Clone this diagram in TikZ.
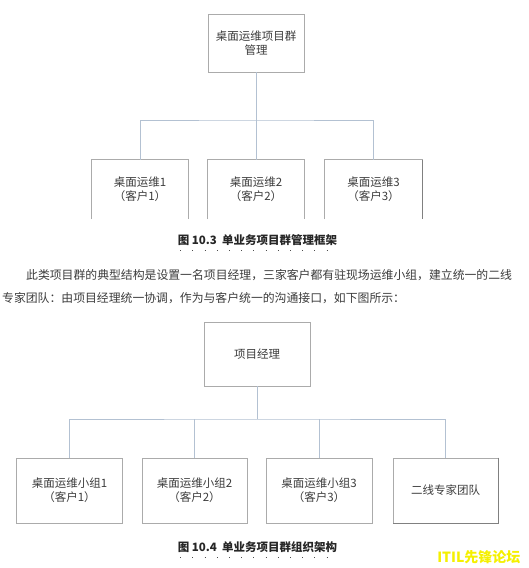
\documentclass[tikz,border=0pt]{standalone}
\usepackage{fontspec}
\setmainfont{Noto Sans CJK SC}
\usepackage{xcolor}
\usetikzlibrary{positioning}
\definecolor{boxgray}{HTML}{ABABAB}
\definecolor{linkblue}{HTML}{B3C1D2}
\definecolor{txtgray}{HTML}{3C3C3C}
\definecolor{shadegray}{HTML}{808080}
\definecolor{markyellow}{HTML}{F5F000}

\begin{document}
\begin{tikzpicture}[x=1pt,y=-1pt,font=\fontsize{11.5}{14}\selectfont]

\tikzset{
b/.style={
    draw=boxgray,
    line width=0.8pt,
    inner sep=0pt,
    text=txtgray,
    align=center
},
bo/.style={
    inner sep=0pt,
    text=txtgray,
    align=center,
    minimum width=96pt,
    minimum height=59pt
},
boxline/.style={draw=boxgray,line width=0.8pt},
shadowline/.style={draw=shadegray,line width=1.4pt},
a/.style={draw=linkblue,line width=0.8pt},
captext/.style={font=\fontsize{11.5}{14}\selectfont\bfseries,text=black!85},
para/.style={font=\fontsize{11.85}{14}\selectfont,text=txtgray,inner sep=0pt},
dotmarks/.style={draw=black!70,line width=1pt,dash pattern=on 1pt off 11.2pt}
}

\fill[white] (0,0) rectangle (529,568);
\useasboundingbox (0,0) rectangle (529,568);

% figure 10.3
\node[b,minimum width=96pt,minimum height=58pt] (group) at (256,43) {桌面运维项目群\\管理};
\node[bo] (desk1) at (140,189.5) {桌面运维1\\（客户1）};
\node[bo] (desk2) at (256,189.5) {桌面运维2\\（客户2）};
\node[bo,minimum width=97pt] (desk3) at (373.5,189.5) {桌面运维3\\（客户3）};
\coordinate (bus1) at (256,120);

\foreach \n in {desk1,desk2,desk3}
  \draw[boxline] (\n.south west) |- (\n.north east) -- (\n.south east);
\draw[shadowline] (desk3.north east) -- (desk3.south east);

\draw[a] (group.south) -- (desk2.north);
\draw[a] (desk1.north) |- (bus1) -| (desk3.north);

\node[captext] (cap1) at (257.5,240) {图 10.3\ \ 单业务项目群管理框架};
\draw[dotmarks] ([xshift=6pt,yshift=-1pt]cap1.south west) -- ([xshift=-4pt,yshift=-1pt]cap1.south east);

% text between the figures
\node[para,anchor=base west] (line1) at (26,279.5) {此类项目群的典型结构是设置一名项目经理，三家客户都有驻现场运维小组，建立统一的二线};
\node[para,anchor=base west] (line2) at (2,302.5) {专家团队：由项目经理统一协调，作为与客户统一的沟通接口，如下图所示：};

% figure 10.4
\node[b,minimum width=106pt,minimum height=64pt] (pm) at (257,354) {项目经理};
\node[b,minimum width=106pt,minimum height=65pt] (team1) at (69.5,490.5) {桌面运维小组1\\（客户1）};
\node[b,minimum width=105pt,minimum height=65pt] (team2) at (194.5,490.5) {桌面运维小组2\\（客户2）};
\node[b,minimum width=106pt,minimum height=65pt] (team3) at (319,490.5) {桌面运维小组3\\（客户3）};
\node[b,minimum width=105pt,minimum height=65pt] (expert) at (445.5,490.5) {二线专家团队};
\coordinate (bus2) at (257,419);
\draw[shadowline] (expert.north east) -- (expert.south east) -- (expert.south west);

\draw[a] (pm.south) -- (bus2);
\draw[a] (team1.north) |- (bus2) -| (expert.north);
\draw[a] (team2.north) -- (team2.north |- bus2);
\draw[a] (team3.north) -- (team3.north |- bus2);

\node[captext] (cap2) at (257.5,547) {图 10.4\ \ 单业务项目群组织架构};
\draw[dotmarks] ([xshift=6pt,yshift=-1pt]cap2.south west) -- ([xshift=-4pt,yshift=-1pt]cap2.south east);

\node[font=\fontsize{14}{14}\selectfont\bfseries,text=markyellow,anchor=base east] (mark) at (524,562) {ITIL先锋论坛};

\end{tikzpicture}
\end{document}
